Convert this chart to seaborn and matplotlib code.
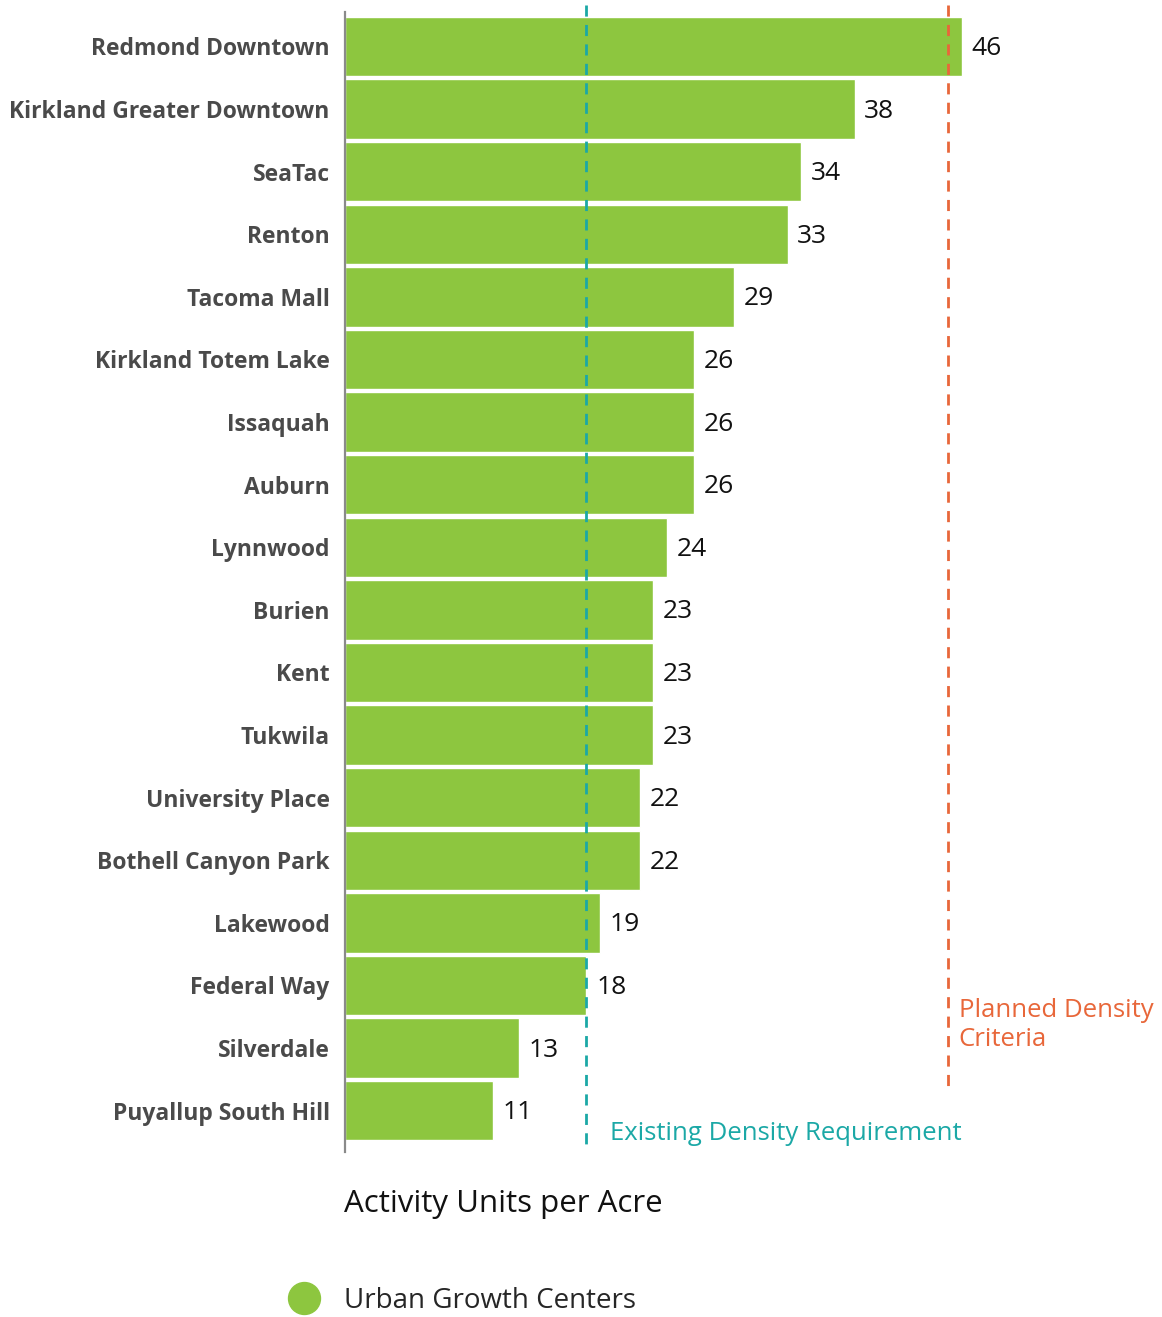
import matplotlib
matplotlib.use("Agg")
import matplotlib.pyplot as plt
import seaborn as sns
import pandas as pd
from matplotlib.lines import Line2D

centers = [
    "Redmond Downtown", "Kirkland Greater Downtown", "SeaTac", "Renton",
    "Tacoma Mall", "Kirkland Totem Lake", "Issaquah", "Auburn", "Lynnwood",
    "Burien", "Kent", "Tukwila", "University Place", "Bothell Canyon Park",
    "Lakewood", "Federal Way", "Silverdale", "Puyallup South Hill",
]
activity_units = [46, 38, 34, 33, 29, 26, 26, 26, 24, 23, 23, 23, 22, 22, 19, 18, 13, 11]
existing_requirement = 18
planned_criteria = 45

BAR_GREEN = "#8dc63f"
TEAL = "#1ba8a6"
ORANGE = "#e8673a"
LABEL_GREY = "#4a4a4a"

sns.set_theme(style="white")
plt.rcParams["font.family"] = ["Open Sans", "DejaVu Sans"]

df = pd.DataFrame({"center": centers, "units": activity_units})

fig = plt.figure(figsize=(11.62, 13.17), dpi=100)
ax = fig.add_axes([345 / 1162, 1 - 1152 / 1317, (1162 - 345) / 1162, (1152 - 12) / 1317])

sns.barplot(data=df, x="units", y="center", orient="h", color=BAR_GREEN,
            saturation=1, width=0.95, ax=ax)

ax.set_xlim(0, (1162 - 345) / 13.41)
ax.set_ylim(17.66, -0.55)

for c in ax.containers:
    for t in ax.bar_label(c, padding=7, fontsize=19, color="#111111"):
        t.set_y(-1.5)

# threshold lines
ax.vlines(existing_requirement, -0.66, 17.64, colors=TEAL, linestyles=(0, (4, 3)),
          linewidth=2, clip_on=False, zorder=3)
ax.vlines(planned_criteria, -0.66, 16.72, colors=ORANGE, linestyles=(0, (4, 3)),
          linewidth=2, clip_on=False, zorder=3)

ax.text(existing_requirement + 1.75, 17.37, "Existing Density Requirement",
        color=TEAL, fontsize=18.5, ha="left", va="center")
ax.text(planned_criteria + 0.75, 15.63, "Planned Density\nCriteria",
        color=ORANGE, fontsize=18.5, ha="left", va="center", linespacing=1.2)

# axes styling
for side in ["top", "right", "bottom"]:
    ax.spines[side].set_visible(False)
ax.spines["left"].set_color("#8a8a8a")
ax.spines["left"].set_linewidth(1.6)
ax.set_xticks([])
ax.set_xlabel("")
ax.set_ylabel("")
ax.tick_params(axis="y", length=0, pad=11)
for lbl in ax.get_yticklabels():
    lbl.set_fontsize(16.5)
    lbl.set_fontweight("bold")
    lbl.set_color(LABEL_GREY)

fig.text(344 / 1162, 1 - 1204 / 1317, "Activity Units per Acre", fontsize=22.5,
         fontweight="medium", color="#111111", ha="left", va="center")

handle = Line2D([], [], marker="o", linestyle="", markersize=23,
                markerfacecolor=BAR_GREEN, markeredgecolor=BAR_GREEN)
fig.legend([handle], ["Urban Growth Centers"], loc="center left",
           bbox_to_anchor=(276 / 1162, 1 - 1301 / 1317), frameon=False,
           fontsize=20, handletextpad=0.45, borderaxespad=0, borderpad=0)

fig.savefig("out.png", dpi=100)
